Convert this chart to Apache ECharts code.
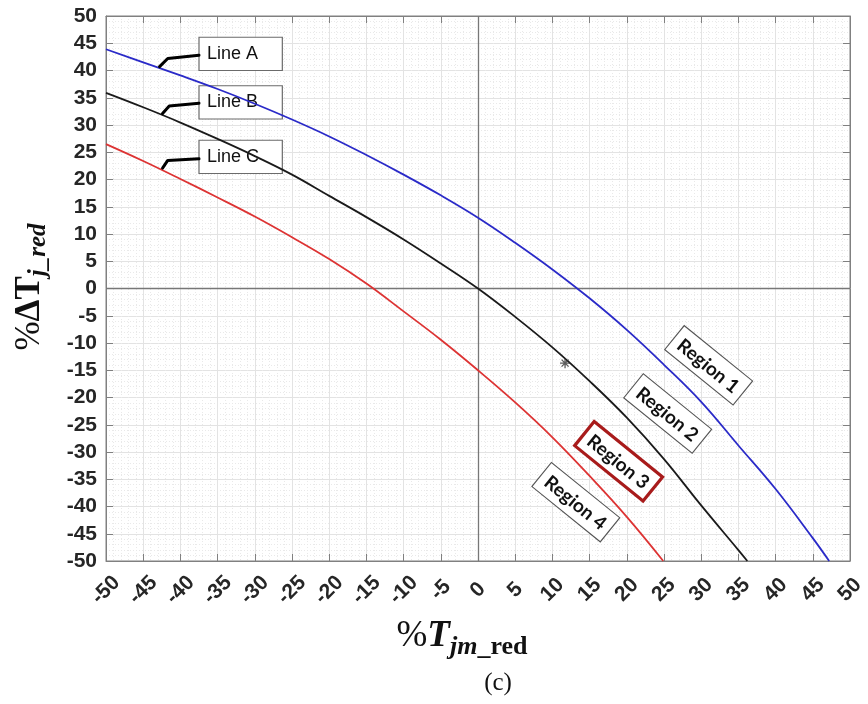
<!DOCTYPE html>
<html>
<head>
<meta charset="utf-8">
<script src="https://cdn.jsdelivr.net/npm/echarts@6/dist/echarts.min.js"></script>
<style>
  html, body { margin: 0; padding: 0; background: #ffffff; }
  #chart { width: 868px; height: 704px; }
</style>
</head>
<body>
<div id="chart"></div>
<script>
// Curve samples (%T_jm_red on x, %ΔT_j_red on y)
const lineAX = [-50, -45, -40, -35, -30, -25, -20, -15, -10, -5, 0, 5, 10, 15, 20, 25, 30, 35, 40, 45, 47.2];
const lineAY = [43.9, 41.5, 39.1, 36.6, 33.9, 31.0, 27.9, 24.5, 20.9, 17.1, 13.0, 8.4, 3.5, -1.8, -7.6, -14.0, -20.8, -28.8, -36.8, -45.8, -50];

const lineBX = [-50, -45, -40, -35, -30, -25, -20, -15, -10, -5, 0, 5, 10, 15, 20, 25, 30, 35, 36.2];
const lineBY = [35.9, 33.25, 30.45, 27.45, 24.3, 20.9, 17.0, 13.1, 9.0, 4.6, 0, -5.2, -10.8, -17.0, -23.7, -31.3, -39.8, -48.0, -50];

const lineCX = [-50, -45, -40, -35, -30, -25, -20, -15, -10, -5, 0, 5, 10, 15, 20, 24.9];
const lineCY = [26.5, 23.4, 20.1, 16.7, 13.2, 9.4, 5.4, 0.9, -4.2, -9.4, -15.0, -20.9, -27.3, -34.4, -41.9, -50];

// Operating point marked with an asterisk
const markerPoint = [11.7, -13.7];

// Axis ticks
const xTicks = [-50, 50, 5];
const yTicks = [-50, 50, 5];

// Callout labels for the three curves: text, leader-line points, box corners (data units)
const lineLabels = ['Line A', 'Line B', 'Line C'];
const leaderA = [[-42.8, 40.7], [-41.7, 42.2], [-37.5, 42.8]];
const leaderB = [[-42.4, 32.1], [-41.5, 33.5], [-37.5, 34.0]];
const leaderC = [[-42.4, 22.1], [-41.7, 23.5], [-37.5, 23.8]];
const labelBoxes = [
  [[-37.5, 46.1], [-26.3, 40.0]],
  [[-37.5, 37.2], [-26.3, 31.1]],
  [[-37.5, 27.2], [-26.3, 21.1]]
];

// Region tags: text and centre position (data units)
const regionNames = ['Region 1', 'Region 2', 'Region 3', 'Region 4'];
const regionCentres = [[31.0, -14.1], [25.5, -22.95], [18.9, -31.7], [13.15, -39.2]];

const zip = (xs, ys) => xs.map((x, i) => [x, ys[i]]);

const chart = echarts.init(document.getElementById('chart'), null, { renderer: 'canvas' });

const axisGray = '#808080';
const labelFont = { fontFamily: 'Liberation Sans, Arial, sans-serif', fontWeight: 'bold', fontSize: 21, color: '#262626' };

const curveBase = {
  type: 'line', showSymbol: false, smooth: 0.4,
  xAxisIndex: 0, yAxisIndex: 0, z: 5, silent: true
};

const leaderBase = {
  type: 'line', showSymbol: false, xAxisIndex: 0, yAxisIndex: 0, z: 8, silent: true,
  lineStyle: { color: '#000', width: 3, join: 'round', cap: 'round' }
};

chart.setOption({
  animation: false,
  backgroundColor: '#ffffff',
  grid: { left: 106, right: 18, top: 16, bottom: 143, show: true, borderColor: axisGray, borderWidth: 1, backgroundColor: '#ffffff' },
  xAxis: [
    {
      type: 'value', min: xTicks[0], max: xTicks[1], interval: xTicks[2], position: 'bottom',
      axisLine: { show: true, onZero: false, lineStyle: { color: axisGray } },
      axisTick: { show: true, inside: true, length: 7, lineStyle: { color: axisGray } },
      minorTick: { show: false, splitNumber: 5 },
      axisLabel: Object.assign({ rotate: 45, margin: 29, align: 'center', verticalAlign: 'middle', showMinLabel: true, showMaxLabel: true }, labelFont),
      splitLine: { show: true, lineStyle: { color: '#e3e3e3', width: 1 } },
      minorSplitLine: { show: true, lineStyle: { color: '#e9e9e9', width: 1, type: [1, 2] } }
    },
    {
      type: 'value', min: xTicks[0], max: xTicks[1], interval: xTicks[2], position: 'top',
      axisLine: { show: true, onZero: false, lineStyle: { color: axisGray } },
      axisTick: { show: true, inside: true, length: 7, lineStyle: { color: axisGray } },
      axisLabel: { show: false }, splitLine: { show: false }
    }
  ],
  yAxis: [
    {
      type: 'value', min: yTicks[0], max: yTicks[1], interval: yTicks[2], position: 'left',
      axisLine: { show: true, onZero: false, lineStyle: { color: axisGray } },
      axisTick: { show: true, inside: true, length: 7, lineStyle: { color: axisGray } },
      minorTick: { show: false, splitNumber: 5 },
      axisLabel: Object.assign({ margin: 9, showMinLabel: true, showMaxLabel: true }, labelFont),
      splitLine: { show: true, lineStyle: { color: '#e3e3e3', width: 1 } },
      minorSplitLine: { show: true, lineStyle: { color: '#e9e9e9', width: 1, type: [1, 2] } }
    },
    {
      type: 'value', min: yTicks[0], max: yTicks[1], interval: yTicks[2], position: 'right',
      axisLine: { show: true, onZero: false, lineStyle: { color: axisGray } },
      axisTick: { show: true, inside: true, length: 7, lineStyle: { color: axisGray } },
      axisLabel: { show: false }, splitLine: { show: false }
    }
  ],
  series: [
    Object.assign({}, curveBase, {
      name: 'Line A', data: zip(lineAX, lineAY), lineStyle: { color: '#2a2ac8', width: 1.8 },
      markLine: {
        silent: true, symbol: 'none', label: { show: false },
        lineStyle: { color: '#777777', width: 1.3, type: 'solid' },
        data: [{ xAxis: 0 }, { yAxis: 0 }]
      }
    }),
    Object.assign({}, curveBase, { name: 'Line B', data: zip(lineBX, lineBY), lineStyle: { color: '#1a1a1a', width: 1.8 } }),
    Object.assign({}, curveBase, { name: 'Line C', data: zip(lineCX, lineCY), lineStyle: { color: '#dd3333', width: 1.8 } }),
    Object.assign({}, leaderBase, { name: 'leader A', data: leaderA }),
    Object.assign({}, leaderBase, { name: 'leader B', data: leaderB }),
    Object.assign({}, leaderBase, { name: 'leader C', data: leaderC }),
    {
      type: 'scatter', name: 'point', data: [markerPoint], z: 9, silent: true,
      symbol: 'path://M0,-10L0,10M-10,0L10,0M-7,-7L7,7M-7,7L7,-7',
      symbolSize: 10,
      itemStyle: { color: 'none', borderColor: '#333', borderWidth: 1.3 }
    }
  ]
});

// Annotations placed from data coordinates
function px(p) { return chart.convertToPixel({ gridIndex: 0 }, p); }

const graphics = [];

// Curve callout boxes sit under the curves, which run across them
lineLabels.forEach((txt, i) => {
  const a = px(labelBoxes[i][0]);
  const b = px(labelBoxes[i][1]);
  graphics.push({
    type: 'rect', z: 3,
    shape: { x: a[0], y: a[1], width: b[0] - a[0], height: b[1] - a[1] },
    style: { fill: '#ffffff', stroke: '#6b6b6b', lineWidth: 1.2 }
  });
  graphics.push({
    type: 'text', z: 4,
    style: {
      text: txt, x: a[0] + 8, y: (a[1] + b[1]) / 2,
      align: 'left', verticalAlign: 'middle',
      fontFamily: 'Liberation Sans, Arial, sans-serif', fontSize: 18, fill: '#111'
    }
  });
});

regionNames.forEach((txt, i) => {
  const c = px(regionCentres[i]);
  const highlighted = i === 2;
  graphics.push({
    type: 'group', x: c[0], y: c[1], rotation: -39 * Math.PI / 180, z: 20,
    children: [
      {
        type: 'rect', z: 20, shape: { x: -44, y: -15.5, width: 88, height: 31 },
        style: { fill: '#ffffff', stroke: highlighted ? '#a81b1b' : '#555555', lineWidth: highlighted ? 3.2 : 1.1 }
      },
      {
        type: 'text', z: 21,
        style: {
          text: txt, x: 0, y: 1, align: 'center', verticalAlign: 'middle',
          fontFamily: 'Lato, Open Sans, sans-serif', fontWeight: 'bold', fontSize: 19, fill: '#111'
        }
      }
    ]
  });
});

// Axis titles and panel caption
graphics.push({
  type: 'text', z: 30, x: 462, y: 660,
  style: {
    text: '{p|%}{t|T}{s|jm}{r|_red}',
    align: 'center', verticalAlign: 'bottom',
    rich: {
      p: { fontFamily: 'Liberation Serif, Times New Roman, serif', fontSize: 37, fill: '#111' },
      t: { fontFamily: 'Liberation Serif, Times New Roman, serif', fontSize: 37, fontWeight: 'bold', fontStyle: 'italic', fill: '#111' },
      s: { fontFamily: 'Liberation Serif, Times New Roman, serif', fontSize: 26, fontWeight: 'bold', fontStyle: 'italic', fill: '#111', padding: [22, 0, 0, 0] },
      r: { fontFamily: 'Liberation Serif, Times New Roman, serif', fontSize: 26, fontWeight: 'bold', fill: '#111', padding: [22, 0, 0, 0] }
    }
  }
});

graphics.push({
  type: 'text', z: 30, x: 498, y: 683,
  style: {
    text: '(c)', align: 'center', verticalAlign: 'middle',
    fontFamily: 'Liberation Serif, Times New Roman, serif', fontSize: 25, fill: '#111'
  }
});

graphics.push({
  type: 'text', z: 30, x: 30, y: 287, rotation: Math.PI / 2,
  style: {
    text: '{p|%}{d|ΔT}{s|j_red}',
    align: 'center', verticalAlign: 'middle',
    rich: {
      p: { fontFamily: 'Liberation Serif, Times New Roman, serif', fontSize: 35, fill: '#111' },
      d: { fontFamily: 'Liberation Serif, Times New Roman, serif', fontSize: 35, fontWeight: 'bold', fill: '#111' },
      s: { fontFamily: 'Liberation Serif, Times New Roman, serif', fontSize: 25, fontWeight: 'bold', fontStyle: 'italic', fill: '#111', padding: [18, 0, 0, 0] }
    }
  }
});

chart.setOption({ graphic: graphics });
</script>
</body>
</html>
